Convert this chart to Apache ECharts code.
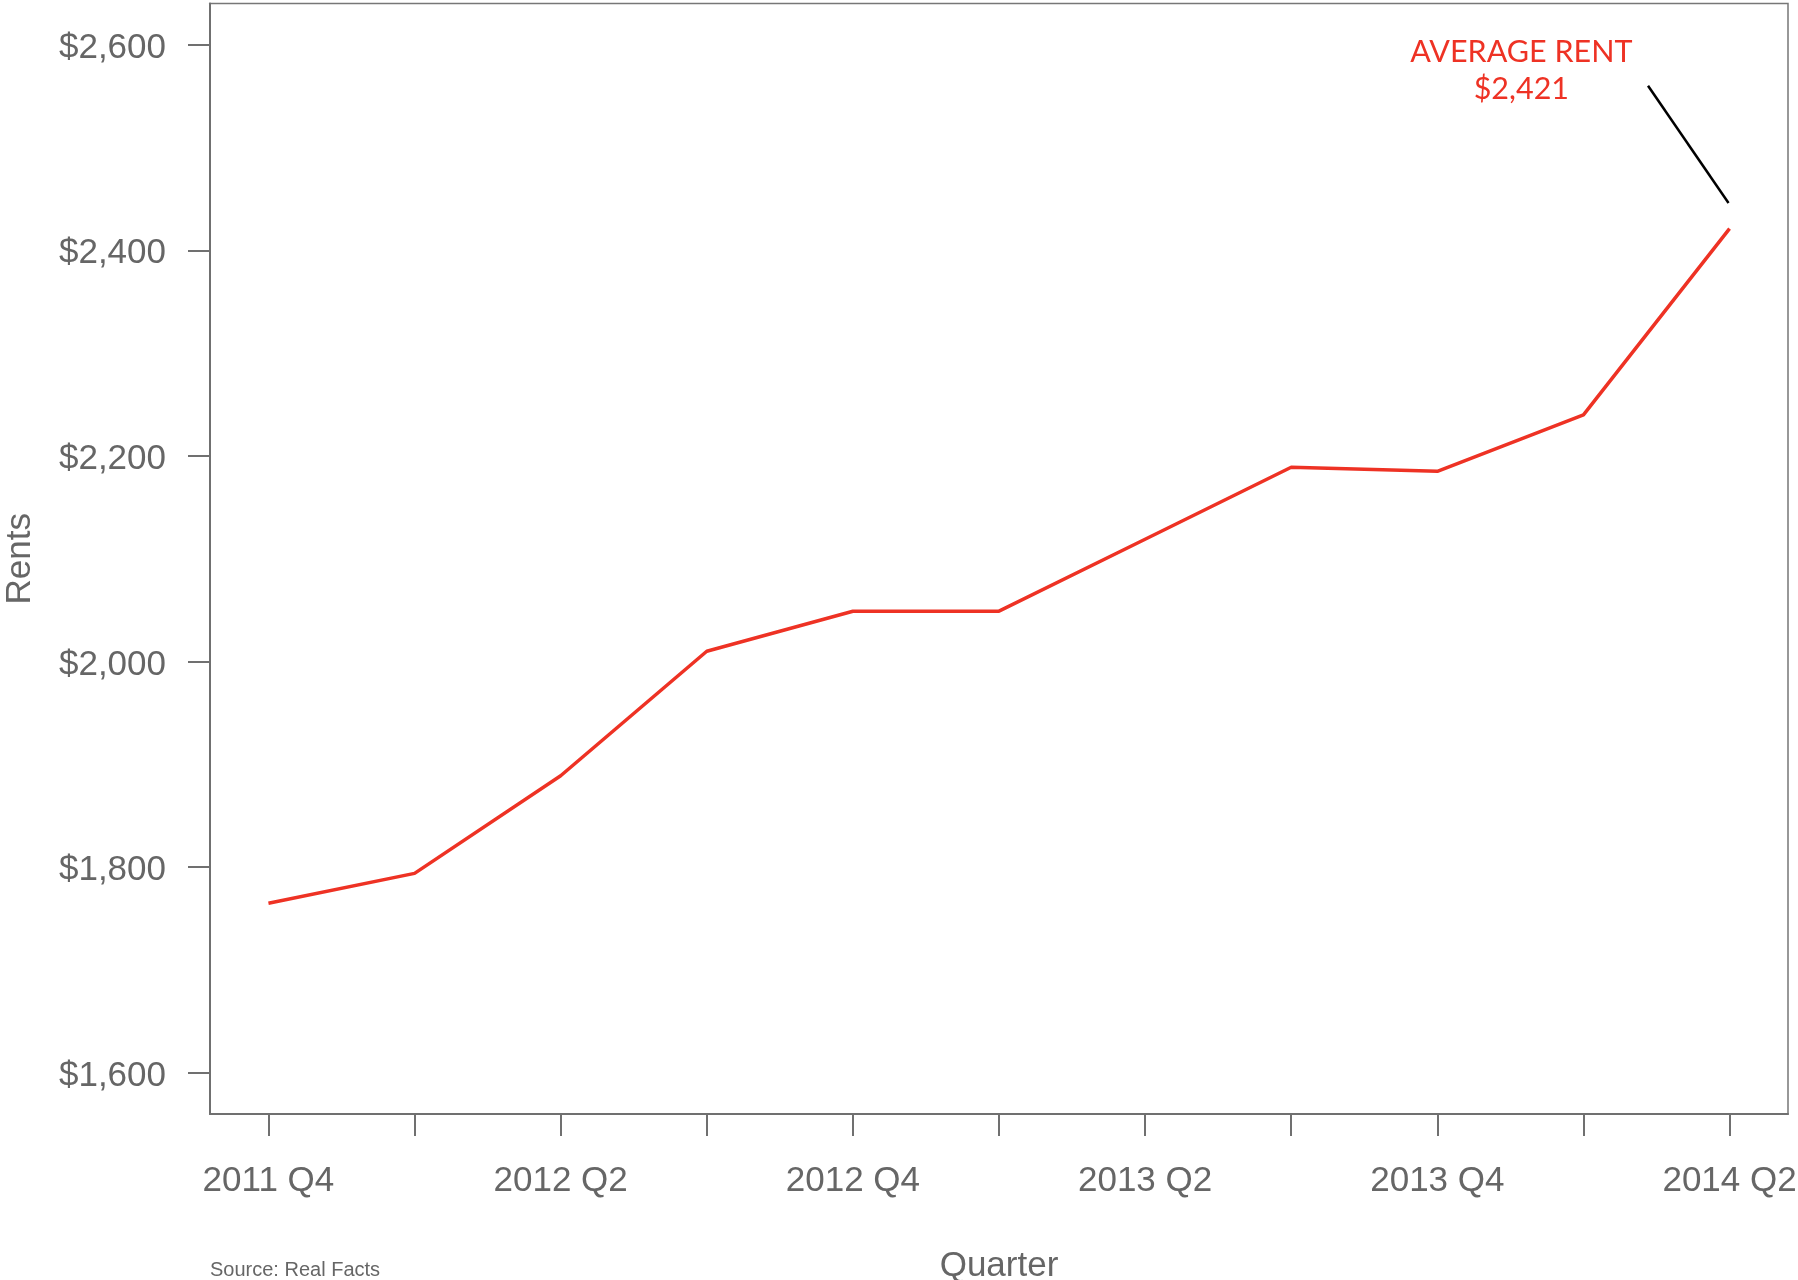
<!DOCTYPE html>
<html>
<head>
<meta charset="utf-8">
<script src="https://cdn.jsdelivr.net/npm/echarts@6/dist/echarts.min.js"></script>
<style>
  html, body { margin: 0; padding: 0; background: #fff; }
  #chart { width: 1798px; height: 1280px; }
</style>
</head>
<body>
<div id="chart"></div>
<script>
// quarters along the x axis
const quarters = ['2011 Q4', '2012 Q1', '2012 Q2', '2012 Q3', '2012 Q4', '2013 Q1',
  '2013 Q2', '2013 Q3', '2013 Q4', '2014 Q1', '2014 Q2']
// average rent per quarter
const rents = [1765, 1794, 1889, 2010, 2049, 2049, 2119, 2189, 2185, 2240, 2421]
const yTicks = [1600, 1800, 2000, 2200, 2400, 2600]
const xTickIdx = [0, 1, 2, 3, 4, 5, 6, 7, 8, 9, 10]
const xLabelIdx = [0, 2, 4, 6, 8, 10]
// annotation pointer (data coords) and label
const calloutText = 'AVERAGE RENT\n$2,421'
const calloutAt = [8.575, 2575]
const pointerFrom = [9.442, 2560]
const pointerTo = [9.993, 2446]

const grey = '#666666'
const red = '#EE3224'
const font = 'Liberation Sans'

const chart = echarts.init(document.getElementById('chart'))

const option = {
  animation: false,
  backgroundColor: '#fff',
  grid: {
    left: 210,
    right: 10,
    top: 3.5,
    bottom: 166,
    outerBoundsMode: 'none',
    containLabel: false,
    show: true,
    borderColor: '#777',
    borderWidth: 1.5
  },
  xAxis: {
    type: 'value',
    min: -0.4,
    max: 10.4,
    name: 'Quarter',
    nameLocation: 'middle',
    nameGap: 135,
    nameTextStyle: { color: grey, fontSize: 35, fontFamily: font },
    axisLine: { show: true, onZero: false, lineStyle: { color: '#707070', width: 2 } },
    axisTick: { show: true, length: 22, customValues: xTickIdx, lineStyle: { color: '#707070', width: 2 } },
    axisLabel: {
      customValues: xLabelIdx,
      margin: 50,
      color: grey,
      fontSize: 35,
      fontFamily: font,
      formatter: v => quarters[Math.round(v)]
    },
    splitLine: { show: false }
  },
  yAxis: {
    type: 'value',
    min: 1560,
    max: 2640,
    name: 'Rents',
    nameLocation: 'middle',
    nameGap: 172,
    nameTextStyle: { color: grey, fontSize: 35, fontFamily: font },
    axisLine: { show: true, onZero: false, lineStyle: { color: '#707070', width: 2 } },
    axisTick: { show: true, length: 22, customValues: yTicks, lineStyle: { color: '#707070', width: 2 } },
    axisLabel: {
      customValues: yTicks,
      margin: 44,
      verticalAlign: 'top',
      lineHeight: 7,
      color: grey,
      fontSize: 35,
      fontFamily: font,
      formatter: v => '$' + v.toLocaleString('en-US')
    },
    splitLine: { show: false }
  },
  series: [
    {
      type: 'line',
      data: rents.map((v, i) => [i, v]),
      symbol: 'none',
      lineStyle: { color: red, width: 3.5 },
      markLine: {
        silent: true,
        symbol: ['none', 'none'],
        label: { show: false },
        lineStyle: { color: '#000', width: 2.5, type: 'solid' },
        data: [[{ coord: pointerFrom }, { coord: pointerTo }]]
      },
      markPoint: {
        silent: true,
        symbolSize: 0,
        data: [{ coord: calloutAt }],
        label: {
          show: true,
          position: 'inside',
          formatter: calloutText,
          color: red,
          fontSize: 30.5,
          lineHeight: 37,
          fontFamily: 'Lato',
          align: 'center'
        }
      }
    }
  ],
  graphic: [
    {
      type: 'text',
      left: 210,
      top: 1260,
      style: { text: 'Source: Real Facts', fill: grey, fontSize: 20, fontFamily: font }
    }
  ]
}

chart.setOption(option)
</script>
</body>
</html>
